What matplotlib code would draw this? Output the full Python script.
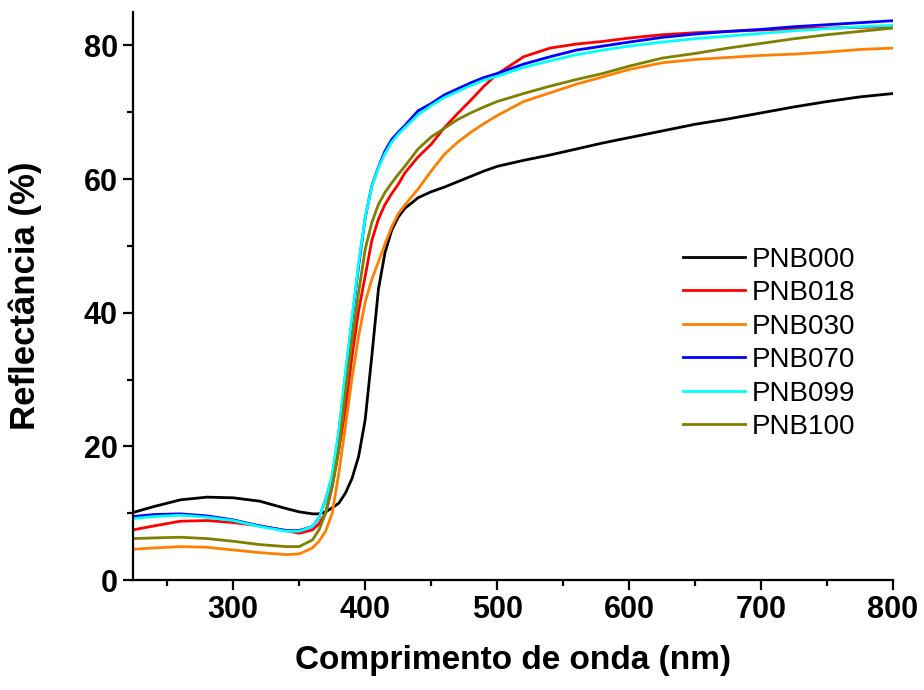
import matplotlib
matplotlib.use("Agg")
import matplotlib.pyplot as plt
from matplotlib.ticker import MultipleLocator

plt.rcParams['font.family'] = ['Liberation Sans', 'DejaVu Sans']

# wavelength grid (nm)
wl = [224, 240, 260, 280, 300, 320, 340, 350, 360, 365, 370, 375, 380, 385,
      390, 395, 400, 405, 410, 415, 420, 425, 430, 440, 450, 460, 470, 480,
      490, 500, 520, 540, 560, 580, 600, 625, 650, 675, 700, 725, 750, 775, 800]

# reflectance (%) for each sample
pnb000 = [10.1, 11.0, 12.0, 12.4, 12.3, 11.8, 10.7, 10.2, 9.9, 9.9, 10.2, 10.8, 11.5, 13.0,
          15.2, 18.5, 24.0, 33.5, 43.5, 49.0, 52.3, 54.3, 55.6, 57.2, 58.1, 58.8, 59.6, 60.4,
          61.2, 61.9, 62.8, 63.6, 64.5, 65.4, 66.2, 67.2, 68.2, 69.0, 69.9, 70.8, 71.6, 72.3, 72.8]
pnb018 = [7.5, 8.1, 8.8, 8.9, 8.6, 8.1, 7.4, 7.0, 7.5, 8.4, 10.0, 14.0, 19.5, 25.5,
          33.5, 40.3, 45.5, 50.8, 54.0, 56.2, 57.8, 59.2, 60.9, 63.3, 65.2, 67.7, 69.8, 71.8,
          73.9, 75.7, 78.3, 79.6, 80.2, 80.6, 81.1, 81.6, 81.9, 82.1, 82.3, 82.5, 82.6, 82.7, 82.8]
pnb030 = [4.6, 4.8, 5.0, 4.9, 4.5, 4.1, 3.8, 3.9, 4.8, 5.8, 7.3, 10.0, 16.0, 23.0,
          30.2, 36.5, 41.6, 45.0, 47.6, 50.3, 52.8, 54.8, 56.1, 58.5, 61.2, 63.7, 65.5, 67.0,
          68.3, 69.5, 71.6, 72.9, 74.2, 75.3, 76.4, 77.4, 77.9, 78.2, 78.5, 78.7, 79.0, 79.4, 79.6]
pnb070 = [9.5, 9.8, 9.9, 9.6, 9.0, 8.1, 7.4, 7.4, 8.0, 9.3, 12.0, 15.5, 22.0, 30.5,
          38.8, 47.0, 54.2, 59.0, 61.8, 64.2, 65.9, 67.0, 68.0, 70.2, 71.3, 72.6, 73.5, 74.4,
          75.2, 75.8, 77.2, 78.3, 79.3, 79.9, 80.5, 81.2, 81.7, 82.1, 82.4, 82.8, 83.1, 83.4, 83.7]
pnb099 = [9.2, 9.5, 9.7, 9.4, 8.9, 8.0, 7.3, 7.3, 8.0, 9.3, 12.0, 15.7, 22.3, 31.0,
          39.3, 47.4, 54.3, 58.9, 61.7, 63.8, 65.5, 66.7, 67.7, 69.6, 71.0, 72.2, 73.1, 74.0,
          74.8, 75.4, 76.7, 77.7, 78.6, 79.3, 79.9, 80.5, 81.0, 81.4, 81.8, 82.2, 82.5, 82.8, 83.0]
pnb100 = [6.2, 6.3, 6.4, 6.2, 5.8, 5.3, 5.0, 5.0, 6.0, 7.5, 10.0, 14.0, 19.5, 28.0,
          36.0, 43.0, 49.5, 53.5, 56.2, 58.0, 59.4, 60.7, 61.9, 64.5, 66.3, 67.6, 68.9, 69.9,
          70.8, 71.6, 72.8, 73.9, 74.9, 75.8, 76.9, 78.1, 78.8, 79.6, 80.3, 81.0, 81.6, 82.1, 82.6]

labels = ['PNB000', 'PNB018', 'PNB030', 'PNB070', 'PNB099', 'PNB100']
colors = ['#000000', '#ff0000', '#ff8000', '#0000ff', '#00ffff', '#808000']
series = [pnb000, pnb018, pnb030, pnb070, pnb099, pnb100]

fig = plt.figure(figsize=(9.24, 6.9), dpi=100)
ax = fig.add_axes([0.1439, 0.1594, 0.8226, 0.8232])

for y, c, lab in zip(series, colors, labels):
    ax.plot(wl, y, color=c, lw=2.0, label=lab)

ax.set_xlim(224, 800)
ax.set_ylim(0, 85)
ax.xaxis.set_major_locator(MultipleLocator(100))
ax.xaxis.set_minor_locator(MultipleLocator(50))
ax.yaxis.set_major_locator(MultipleLocator(20))
ax.yaxis.set_minor_locator(MultipleLocator(10))

for side in ['top', 'right']:
    ax.spines[side].set_visible(False)
for side in ['left', 'bottom']:
    ax.spines[side].set_linewidth(1.6)

ax.tick_params(which='major', direction='out', length=7, width=1.6, labelsize=22, pad=4)
ax.tick_params(which='minor', direction='out', length=4, width=1.6)
for t in ax.get_xticklabels() + ax.get_yticklabels():
    t.set_fontweight('bold')

ax.set_xlabel('Comprimento de onda (nm)', fontsize=24, fontweight='bold')
ax.set_ylabel('Reflectância (%)', fontsize=25, fontweight='bold')
ax.xaxis.set_label_coords(0.5, -0.114)
ax.yaxis.set_label_coords(-0.12, 0.5)

ax.legend(loc='upper left', bbox_to_anchor=(0.724, 0.587), frameon=False,
          fontsize=20, handlelength=2.23, handletextpad=0.25, labelspacing=0.27,
          borderpad=0, borderaxespad=0)

fig.savefig('out.png', dpi=100)
